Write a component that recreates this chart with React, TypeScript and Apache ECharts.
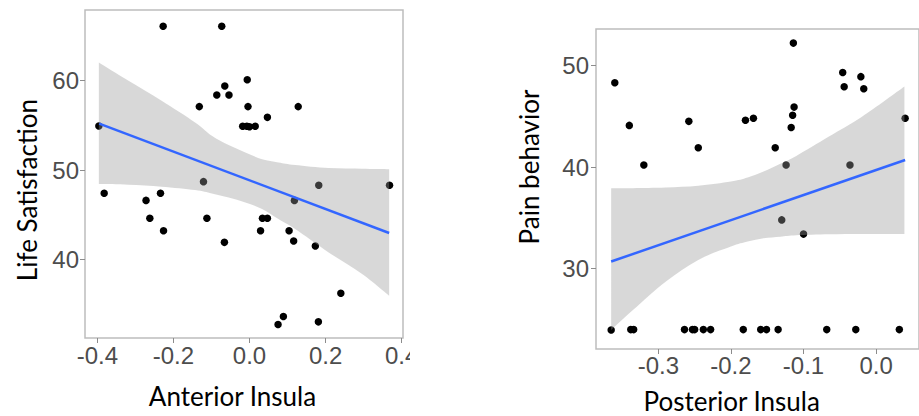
import React, { useEffect, useRef } from "react";
import * as echarts from "echarts";

// ---- Left panel: Anterior Insula vs Life Satisfaction ----
const anteriorInsula = [
  -0.396, -0.382, -0.227, -0.073, -0.272, -0.262, -0.234, -0.226, -0.132, -0.121,
  -0.112, -0.086, -0.065, -0.054, -0.066, -0.006, -0.004, -0.018, -0.007, 0.0,
  0.015, 0.047, 0.029, 0.034, 0.047, 0.128, 0.104, 0.116, 0.118, 0.182,
  0.173, 0.368, 0.24, 0.089, 0.075, 0.181,
];
const lifeSatisfaction = [
  54.93, 47.4, 66.1, 66.1, 46.6, 44.6, 47.4, 43.2, 57.1, 48.7,
  44.6, 58.4, 59.4, 58.4, 41.9, 60.1, 57.1, 54.9, 54.9, 54.85,
  54.9, 55.9, 43.2, 44.6, 44.6, 57.1, 43.2, 42.05, 46.6, 48.3,
  41.5, 48.3, 36.2, 33.6, 32.7, 33.0,
];
const antBandX = [-0.396, -0.318, -0.231, -0.143, -0.099, -0.055, -0.011, 0.033, 0.076, 0.12, 0.208, 0.296, 0.367];
const antBandUpper = [62.05, 60.0, 57.76, 55.33, 53.84, 52.8, 51.97, 51.2, 50.85, 50.56, 50.22, 50.15, 50.1];
const antBandLower = [48.43, 48.35, 48.13, 47.76, 47.38, 46.93, 46.37, 45.63, 44.51, 43.39, 40.77, 38.35, 35.92];
const antFitX = [-0.395, 0.367];
const antFitY = [55.2, 42.95];
const antXTicks = [-0.4, -0.2, 0.0, 0.2, 0.4];
const antYTicks = [40, 50, 60];

// ---- Right panel: Posterior Insula vs Pain behavior ----
const posteriorInsula = [
  -0.365, -0.36, -0.34, -0.338, -0.334, -0.32, -0.264, -0.258, -0.253, -0.25,
  -0.245, -0.238, -0.228, -0.183, -0.18, -0.169, -0.159, -0.151, -0.139, -0.135,
  -0.13, -0.124, -0.117, -0.115, -0.113, -0.114, -0.1, -0.068, -0.046, -0.044,
  -0.036, -0.028, -0.021, -0.017, 0.032, 0.04,
];
const painBehavior = [
  23.96, 48.3, 44.1, 24, 24, 40.2, 24, 44.5, 24, 24,
  41.9, 24, 24, 24, 44.6, 44.8, 24, 24, 41.9, 24,
  34.8, 40.2, 43.9, 45.1, 45.9, 52.2, 33.4, 24, 49.3, 47.9,
  40.2, 24, 48.9, 47.7, 24, 44.8,
];
const postBandX = [-0.365, -0.335, -0.29, -0.245, -0.2, -0.177, -0.155, -0.132, -0.11, -0.065, -0.019, 0.039];
const postBandUpper = [37.92, 37.92, 37.98, 38.15, 38.57, 38.97, 39.56, 40.32, 41.1, 43.0, 44.98, 47.93];
const postBandLower = [23.96, 25.93, 28.72, 30.86, 32.17, 32.66, 33.0, 33.15, 33.29, 33.39, 33.42, 33.42];
const postFitX = [-0.365, 0.04];
const postFitY = [30.7, 40.7];
const postXTicks = [-0.3, -0.2, -0.1, 0.0];
const postYTicks = [30, 40, 50];

const zip = (a: number[], b: number[]) => a.map((v, i) => [v, b[i]]);

const TICK_FONT = "'Liberation Sans', Arial, sans-serif";
const TITLE_FONT = "Lato, 'Open Sans', sans-serif";
const BORDER = "#bdbdbd";

// Smooth (Catmull-Rom) path through already-projected pixel points
function catmull(P: number[][]): string {
  let d = "";
  for (let i = 0; i < P.length - 1; i++) {
    const p0 = P[i - 1] || P[i];
    const p1 = P[i];
    const p2 = P[i + 1];
    const p3 = P[i + 2] || P[i + 1];
    const c1x = p1[0] + (p2[0] - p0[0]) / 6;
    const c1y = p1[1] + (p2[1] - p0[1]) / 6;
    const c2x = p2[0] - (p3[0] - p1[0]) / 6;
    const c2y = p2[1] - (p3[1] - p1[1]) / 6;
    d += ` C${c1x},${c1y} ${c2x},${c2y} ${p2[0]},${p2[1]}`;
  }
  return d;
}

function xAxisCfg(gridIndex: number, min: number, max: number, ticks: number[], margin: number) {
  return {
    type: "value",
    gridIndex,
    min,
    max,
    axisLine: { show: false, onZero: false },
    splitLine: { show: false },
    axisTick: { show: true, length: 5, customValues: ticks, lineStyle: { color: "#8c8c8c", width: 1 } },
    axisLabel: {
      customValues: ticks,
      margin,
      fontSize: 24,
      fontFamily: TICK_FONT,
      color: "#4d4d4d",
      formatter: (v: number) => v.toFixed(1),
    },
  };
}
function yAxisCfg(gridIndex: number, min: number, max: number, ticks: number[], margin: number) {
  return {
    type: "value",
    gridIndex,
    min,
    max,
    axisLine: { show: false, onZero: false },
    splitLine: { show: false },
    axisTick: { show: true, length: 5, customValues: ticks, lineStyle: { color: "#8c8c8c", width: 1 } },
    axisLabel: {
      customValues: ticks,
      margin,
      fontSize: 24,
      fontFamily: TICK_FONT,
      color: "#4d4d4d",
      formatter: (v: number) => String(v),
    },
  };
}

function panelSeries(
  idx: number,
  xs: number[], ys: number[],
  bx: number[], bu: number[], bl: number[],
  fx: number[], fy: number[]
) {
  return [
    {
      type: "scatter",
      xAxisIndex: idx,
      yAxisIndex: idx,
      z: 1,
      symbolSize: 7.5,
      itemStyle: { color: "#000", opacity: 1 },
      data: zip(xs, ys),
      silent: true,
    },
    {
      type: "custom",
      xAxisIndex: idx,
      yAxisIndex: idx,
      z: 2,
      silent: true,
      data: [[bx[0], bl[0]]],
      renderItem: (_params: any, api: any) => {
        const U = bx.map((x, i) => api.coord([x, bu[i]]));
        const L = bx.map((x, i) => api.coord([x, bl[i]])).reverse();
        const d =
          `M${U[0][0]},${U[0][1]}` + catmull(U) +
          ` L${L[0][0]},${L[0][1]}` + catmull(L) + " Z";
        return {
          type: "path",
          shape: { pathData: d },
          style: { fill: "rgba(153,153,153,0.38)", stroke: "none" },
        };
      },
    },
    {
      type: "line",
      xAxisIndex: idx,
      yAxisIndex: idx,
      z: 3,
      symbol: "none",
      lineStyle: { color: "#3366ff", width: 2.5 },
      data: zip(fx, fy),
      silent: true,
    },
  ];
}

export default function App() {
  const ref = useRef<HTMLDivElement>(null);
  useEffect(() => {
    document.body.style.margin = "0";
    const chart = echarts.init(ref.current!, null, { renderer: "svg" });
    chart.setOption({
      animation: false,
      backgroundColor: "#ffffff",
      grid: [
        { left: 85, top: 10, width: 318, height: 328, show: true, borderColor: BORDER, borderWidth: 1.5, containLabel: false },
        { left: 596, top: 29, width: 329, height: 320, show: true, borderColor: BORDER, borderWidth: 1.5, containLabel: false },
      ],
      xAxis: [
        xAxisCfg(0, -0.4324, 0.4034, antXTicks, 5),
        xAxisCfg(1, -0.3859, 0.0591, postXTicks, 4),
      ],
      yAxis: [
        yAxisCfg(0, 31.19, 67.92, antYTicks, 6),
        yAxisCfg(1, 22.09, 53.59, postYTicks, 7),
      ],
      series: [
        ...panelSeries(0, anteriorInsula, lifeSatisfaction, antBandX, antBandUpper, antBandLower, antFitX, antFitY),
        ...panelSeries(1, posteriorInsula, painBehavior, postBandX, postBandUpper, postBandLower, postFitX, postFitY),
      ],
      graphic: [
        { type: "rect", left: 410, top: 340, shape: { width: 60, height: 34 }, style: { fill: "#ffffff" }, z: 100 },
        {
          type: "text", x: 27, y: 190, rotation: Math.PI / 2, z: 100,
          style: { text: "Life Satisfaction", fontSize: 26, fontFamily: TITLE_FONT, fill: "#000", align: "center", verticalAlign: "middle" },
        },
        {
          type: "text", x: 232.5, y: 396, z: 100,
          style: { text: "Anterior Insula", fontSize: 26, fontFamily: TITLE_FONT, fill: "#000", align: "center", verticalAlign: "middle" },
        },
        {
          type: "text", x: 528.5, y: 167, rotation: Math.PI / 2, z: 100,
          style: { text: "Pain behavior", fontSize: 26, fontFamily: TITLE_FONT, fill: "#000", align: "center", verticalAlign: "middle" },
        },
        {
          type: "text", x: 731.7, y: 401, z: 100,
          style: { text: "Posterior Insula", fontSize: 26, fontFamily: TITLE_FONT, fill: "#000", align: "center", verticalAlign: "middle" },
        },
      ],
    });
    return () => chart.dispose();
  }, []);
  return <div ref={ref} style={{ width: 919, height: 416 }} />;
}
